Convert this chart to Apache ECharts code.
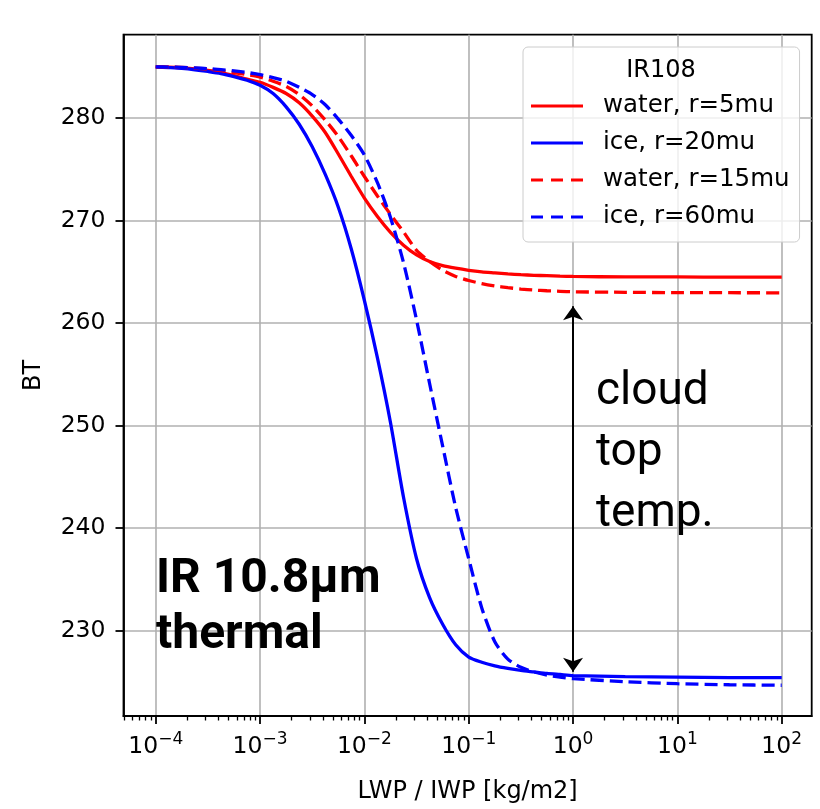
<!DOCTYPE html>
<html>
<head>
<meta charset="utf-8">
<script src="https://cdn.jsdelivr.net/npm/echarts@6/dist/echarts.min.js"></script>
<style>
html, body { margin: 0; padding: 0; background: #fff; }
#chart { width: 820px; height: 809px; }
</style>
</head>
<body>
<div id="chart"></div>
<script>
// x positions, as log10(LWP) (kg/m2)
var lwpExp = [-4, -3.875, -3.75, -3.625, -3.5, -3.375, -3.25, -3.125, -3, -2.875, -2.75, -2.625,
    -2.5, -2.375, -2.25, -2.125, -2, -1.875, -1.75, -1.625, -1.5, -1.375, -1.25, -1.125,
    -1, -0.875, -0.75, -0.625, -0.5, -0.375, -0.25, -0.125, 0, 0.5, 1, 1.5, 2];

// brightness temperature (K)
var waterR5 = [285.0, 284.97, 284.9, 284.8, 284.65, 284.45, 284.15, 283.8, 283.5, 283.0, 282.4, 281.5,
    280.2, 278.6, 276.5, 274.3, 272.2, 270.4, 268.85, 267.6, 266.65, 266.0, 265.6, 265.35,
    265.15, 265.0, 264.9, 264.8, 264.72, 264.66, 264.62, 264.58, 264.55, 264.5, 264.5, 264.48, 264.48];
var iceR20 = [285.0, 284.93, 284.85, 284.72, 284.55, 284.35, 284.05, 283.7, 283.2, 282.4, 281.1, 279.4,
    277.2, 274.5, 271.3, 267.2, 262.2, 256.6, 250.3, 243.0, 237.0, 233.2, 230.6, 228.6,
    227.4, 226.9, 226.55, 226.3, 226.1, 225.95, 225.8, 225.7, 225.6, 225.5, 225.45, 225.4, 225.4];
var waterR15 = [285.0, 284.98, 284.95, 284.88, 284.78, 284.63, 284.45, 284.25, 284.0, 283.6, 283.1, 282.3,
    281.2, 279.8, 278.2, 276.3, 274.3, 272.4, 270.6, 268.9, 267.1, 266.0, 265.15, 264.55,
    264.15, 263.85, 263.62, 263.45, 263.32, 263.22, 263.15, 263.1, 263.05, 263.0, 262.97, 262.96, 262.95];
var iceR60 = [285.0, 284.98, 284.95, 284.9, 284.83, 284.73, 284.6, 284.45, 284.25, 283.95, 283.6, 283.0,
    282.3, 281.3, 279.9, 278.3, 276.4, 273.7, 270.3, 265.9, 260.3, 254.1, 248.0, 242.0,
    237.0, 232.2, 228.9, 227.2, 226.4, 225.95, 225.65, 225.45, 225.3, 225.0, 224.8, 224.7, 224.65];

var seriesNames = ['water, r=5mu', 'ice, r=20mu', 'water, r=15mu', 'ice, r=60mu'];
var seriesValues = [waterR5, iceR20, waterR15, iceR60];
var seriesColors = ['#ff0000', '#0000ff', '#ff0000', '#0000ff'];
var seriesDashed = [false, false, true, true];

var xTickExp = [-4, -3, -2, -1, 0, 1, 2];
var yTicks = [230, 240, 250, 260, 270, 280];

// double arrow "cloud top temp." at LWP = 1
var arrowX = 1;
var arrowTop = 261.65;
var arrowBottom = 225.96;

var chart = echarts.init(document.getElementById('chart'));

var xMin = Math.pow(10, -4.309);
var xMax = Math.pow(10, 2.2875);
var majorX = xTickExp.map(function(e) { return Math.pow(10, e); });
var minorX = [];
for (var d = -5; d <= 2; d++) {
    for (var k = 2; k <= 9; k++) {
        var v = k * Math.pow(10, d);
        if (v > xMin && v < xMax) minorX.push(v);
    }
}

var solidIcon = 'path://M0,0h52v3h-52z';
var dashIcon = 'path://M0,0h12v3h-12z M20,0h12v3h-12z M40,0h12v3h-12z';

var series = seriesNames.map(function(name, i) {
    return {
        name: name,
        type: 'line',
        showSymbol: false,
        symbol: 'none',
        smooth: 0.25,
        color: seriesColors[i],
        lineStyle: {
            color: seriesColors[i],
            width: 3.3,
            type: seriesDashed[i] ? [13, 6] : 'solid'
        },
        data: lwpExp.map(function(e, j) { return [Math.pow(10, e), seriesValues[i][j]]; })
    };
});
// arrow between the two plateaus
series[1].markLine = {
    silent: true,
    symbol: ['arrow', 'arrow'],
    symbolSize: [15, 14],
    label: { show: false },
    itemStyle: { color: '#000' },
    lineStyle: { color: '#000', width: 2, type: 'solid' },
    data: [[{ coord: [arrowX, arrowTop] }, { coord: [arrowX, arrowBottom] }]]
};

var font = 'DejaVu Sans';

chart.setOption({
    animation: false,
    grid: {
        left: 123.5, top: 34.7, right: 8.3, bottom: 91.5,
        show: true, borderColor: '#000', borderWidth: 1.8
    },
    legend: {
        orient: 'vertical',
        left: 523,
        top: 47,
        padding: [46, 10, 12, 8],
        itemWidth: 52,
        itemHeight: 3,
        itemGap: 11,
        backgroundColor: 'rgba(255,255,255,0.8)',
        borderColor: '#cccccc',
        borderWidth: 1,
        borderRadius: 5,
        textStyle: { fontFamily: font, fontSize: 24.5, color: '#000', lineHeight: 26, padding: [0, 0, 0, 15] },
        data: seriesNames.map(function(n, i) {
            return { name: n, icon: seriesDashed[i] ? dashIcon : solidIcon };
        })
    },
    xAxis: [{
        type: 'log',
        logBase: 10,
        min: xMin,
        max: xMax,
        name: 'LWP / IWP [kg/m2]',
        nameLocation: 'middle',
        nameGap: 64,
        nameTextStyle: { fontFamily: font, fontSize: 24, color: '#000' },
        axisLine: { lineStyle: { color: '#000', width: 1.8 } },
        axisTick: { customValues: majorX, length: 8, lineStyle: { color: '#000', width: 1.8 } },
        axisLabel: {
            customValues: majorX,
            margin: 15,
            color: '#000',
            formatter: function(v) {
                var e = Math.round(Math.log10(v));
                return '{b|10}{s|' + (e < 0 ? '\u2212' : '') + Math.abs(e) + '}';
            },
            rich: {
                b: { fontFamily: font, fontSize: 23.5, color: '#000' },
                s: { fontFamily: font, fontSize: 17, color: '#000', padding: [0, 0, 15, 0] }
            }
        },
        splitLine: { show: true, lineStyle: { color: '#b0b0b0', width: 1.6 } }
    }, {
        type: 'log',
        logBase: 10,
        min: xMin,
        max: xMax,
        position: 'bottom',
        axisLine: { show: false },
        axisLabel: { show: false },
        splitLine: { show: false },
        axisTick: { customValues: minorX, length: 4.5, lineStyle: { color: '#000', width: 1.3 } }
    }],
    yAxis: {
        type: 'value',
        min: 221.65,
        max: 288.14,
        name: 'BT',
        nameLocation: 'middle',
        nameGap: 78,
        nameTextStyle: { fontFamily: font, fontSize: 24, color: '#000' },
        axisLine: { lineStyle: { color: '#000', width: 1.8 } },
        axisTick: { customValues: yTicks, length: 8, lineStyle: { color: '#000', width: 1.8 } },
        axisLabel: { customValues: yTicks, margin: 18, fontFamily: font, fontSize: 23.5, color: '#000' },
        splitLine: { show: true, lineStyle: { color: '#b0b0b0', width: 1.6 } }
    },
    graphic: [{
        type: 'text', z: 100, x: 661, y: 71,
        style: { text: 'IR108', font: '24px "DejaVu Sans"', fill: '#000', align: 'center', verticalAlign: 'middle' }
    }, {
        type: 'text', z: 100, left: 596, top: 362,
        style: { text: 'cloud\ntop\ntemp.', font: '46px Roboto', lineHeight: 61, fill: '#000' }
    }, {
        type: 'text', z: 100, left: 156, top: 552,
        style: { text: 'IR 10.8\u00b5m\nthermal', font: 'bold 48px Roboto', lineHeight: 56, fill: '#000' }
    }],
    series: series
});
</script>
</body>
</html>
